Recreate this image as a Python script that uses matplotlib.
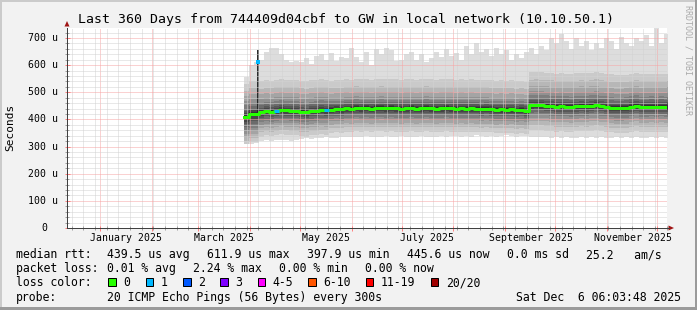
import numpy as np
import matplotlib
matplotlib.use("Agg")
import matplotlib.pyplot as plt
import matplotlib.dates as mdates
from matplotlib.patches import Rectangle, Polygon
from matplotlib.lines import Line2D
from matplotlib.transforms import offset_copy

W, H = 697, 310
MONO = "DejaVu Sans Mono"

# ---------------------------------------------------------------
# values (rtt in microseconds)
# one consolidated row every 3 days from the first row with data
# ---------------------------------------------------------------
first_row = np.datetime64("2025-03-28T09:36")
row_hours = 72

median_rtt = [
    410, 420, 420, 426, 430, 428, 432, 434, 433, 432,
    432, 428, 426, 430, 432, 434, 433, 436, 438, 437,
    441, 440, 443, 441, 442, 440, 442, 443, 441, 442,
    441, 440, 441, 442, 440, 441, 443, 441, 440, 441,
    442, 441, 440, 441, 440, 441, 440, 439, 440, 438,
    436, 437, 436, 437, 434, 436, 432, 452, 453, 452,
    451, 449, 447, 448, 447, 446, 448, 450, 448, 451,
    453, 449, 447, 444, 442, 442, 443, 447, 451, 445,
    446, 447, 446, 447, 446,
]
lost_pings = [
    0, 0, 0, 0, 0, 0, 1, 0, 0, 0,
    0, 0, 0, 0, 0, 0, 1, 0, 0, 0,
    0, 0, 0, 0, 0, 0, 0, 0, 0, 0,
    0, 0, 0, 0, 0, 0, 0, 0, 0, 0,
    0, 0, 0, 0, 0, 0, 0, 0, 0, 0,
    0, 0, 0, 0, 0, 0, 0, 0, 0, 0,
    0, 0, 0, 0, 0, 0, 0, 0, 0, 0,
    0, 0, 0, 0, 0, 0, 0, 0, 0, 0,
    0, 0, 0, 0, 0,
]
ping_max = [
    556, 600, 610, 620, 650, 665, 662, 640, 620, 612,
    615, 610, 625, 605, 635, 640, 620, 645, 615, 630,
    625, 662, 630, 612, 648, 600, 660, 640, 665, 655,
    615, 620, 640, 650, 620, 640, 610, 625, 650, 630,
    660, 635, 645, 620, 670, 640, 680, 650, 660, 635,
    665, 640, 655, 620, 640, 625, 650, 665, 640, 670,
    655, 700, 680, 715, 690, 660, 700, 670, 690, 655,
    680, 665, 700, 690, 660, 705, 680, 670, 700, 690,
    710, 670, 740, 680, 715,
]
ping_min = [
    308, 310, 312, 322, 324, 320, 325, 323, 326, 322,
    325, 328, 330, 328, 332, 330, 334, 331, 333, 335,
    336, 334, 337, 335, 338, 336, 334, 337, 339, 336,
    335, 338, 336, 337, 335, 338, 336, 334, 337, 339,
    336, 338, 340, 337, 339, 336, 341, 338, 336, 340,
    337, 339, 342, 338, 336, 340, 338, 335, 337, 334,
    336, 333, 335, 332, 336, 333, 330, 334, 331, 335,
    332, 336, 333, 330, 334, 332, 335, 331, 334, 333,
    330, 335, 332, 334, 333,
]

# width of the smoke layers: how far pings 2..10 lie below and pings
# 11..19 lie above the median, for four stretches of the year
stretch_first_row = [0, 3, 17, 57]
spread_below = [
    [102, 88, 75, 62, 50, 38, 27, 18, 9],
    [89, 73, 59, 46, 36, 27, 19, 12, 6],
    [86, 69, 55, 43, 34, 25, 18, 12, 6],
    [92, 74, 58, 46, 36, 27, 19, 12, 6],
]
spread_above = [
    [8, 13, 20, 30, 42, 57, 75, 95, 120],
    [6, 11, 18, 26, 36, 49, 66, 87, 114],
    [6, 10, 16, 23, 31, 42, 59, 79, 107],
    [6, 11, 18, 27, 38, 52, 72, 95, 122],
]

# one short row in early April: 1 lost ping, very wide spread
spike_time = np.datetime64("2025-04-05T19:00")
spike_low, spike_high = 425, 655
spike_median = 612

t_start = np.datetime64("2024-12-12T04:48")
t_end = np.datetime64("2025-12-07T04:48")
y_top = 737

y_ticks = [0, 100, 200, 300, 400, 500, 600, 700]
y_ticklabels = ["0", "100 u", "200 u", "300 u", "400 u", "500 u", "600 u", "700 u"]
x_label_times = ["2025-01-16T12:00", "2025-03-16T12:00", "2025-05-16T12:00",
                 "2025-07-16T12:00", "2025-09-16T12:00", "2025-11-16T12:00"]
x_ticklabels = ["January 2025", "March 2025", "May 2025",
                "July 2025", "September 2025", "November 2025"]

loss_labels = ["0", "1", "2", "3", "4-5", "6-10", "11-19", "20/20"]
loss_colors = ["#26ff00", "#00b8ff", "#0059ff", "#7e00ff",
               "#ff00ff", "#ff5500", "#ff0000", "#a00000"]

title = "Last 360 Days from 744409d04cbf to GW in local network (10.10.50.1)"
rtt_stats = ["439.5 us avg", "611.9 us max", "397.9 us min",
             "445.6 us now", "0.0 ms sd", "25.2   am/s"]
loss_stats = ["0.01 % avg", "2.24 % max", "0.00 % min", "0.00 % now"]
probe_text = "20 ICMP Echo Pings (56 Bytes) every 300s"
stamp = "Sat Dec  6 06:03:48 2025"


def fx(x):
    return x / W


def fy(y):
    return 1 - y / H


fig = plt.figure(figsize=(W / 100, H / 100), dpi=100, facecolor="#f2f2f2")

# 3d-ish frame round the image
fig.patches.append(Rectangle((0, fy(2)), 1, 2 / H, transform=fig.transFigure, color="#cbcbcb", lw=0))
fig.patches.append(Rectangle((0, 0), 2 / W, 1, transform=fig.transFigure, color="#cbcbcb", lw=0))
fig.patches.append(Rectangle((0, 0), 1, 3 / H, transform=fig.transFigure, color="#9b9b9b", lw=0))
fig.patches.append(Rectangle((fx(695), 0), 2 / W, 1, transform=fig.transFigure, color="#9b9b9b", lw=0))

ax = fig.add_axes([fx(67), fy(228), 600 / W, 200 / H])
ax.set_facecolor("white")

# ---- smoke ----
n = len(median_rtt)
edges = first_row + np.arange(n + 1) * np.timedelta64(row_hours, "h")
xe = mdates.date2num(edges)
med = np.array(median_rtt, dtype=float)

q = np.zeros((20, n))
q[0] = ping_min
q[19] = ping_max
bounds = stretch_first_row + [n]
for k in range(len(stretch_first_row)):
    a, b = bounds[k], bounds[k + 1]
    q[1:10, a:b] = med[a:b] - np.array(spread_below[k])[:, None]
    q[10:19, a:b] = med[a:b] + np.array(spread_above[k])[:, None]

for i in range(10):
    g = int(190 / 10 * (9 - i)) + 50      # smokeping grey ramp, outer pair lightest
    lo = np.append(q[i], q[i][-1])
    hi = np.append(q[19 - i], q[19 - i][-1])
    ax.fill_between(xe, lo, hi, step="post", color="#%02x%02x%02x" % (g, g, g),
                    lw=0, zorder=1)

xs = mdates.date2num(spike_time)
ax.vlines(xs, spike_low, spike_high, color="#262626", lw=1.4, zorder=1.2)

# ---- median, coloured by loss ----
ax.step(xe, np.append(med, med[-1]), where="post", color=loss_colors[0], lw=2.16, zorder=3)
for i, lost in enumerate(lost_pings):
    if lost:
        ax.hlines(med[i], xe[i], xe[i + 1], color=loss_colors[lost], lw=2.16, zorder=3.1)
ax.plot([xs], [spike_median], marker="s", ms=2.3, mew=0, color=loss_colors[1], zorder=3.2)

# ---- axes, grid ----
ax.set_xlim(mdates.date2num(t_start), mdates.date2num(t_end))
ax.set_ylim(0, y_top)
ax.xaxis.set_major_locator(mdates.MonthLocator())
ax.xaxis.set_minor_locator(mdates.WeekdayLocator(byweekday=mdates.SU))
ax.set_yticks(y_ticks)
ax.set_yticks(np.arange(0, y_top, 20), minor=True)
ax.set_axisbelow("line")
ax.grid(which="minor", color="#d2d2d2", linestyle=(0, (1, 1)), lw=0.72)
ax.grid(which="major", color="#f7a4a4", linestyle=(0, (1, 1)), lw=0.72)
ax.tick_params(which="major", direction="inout", length=3.6, width=0.72, color="#ff8080",
               labelbottom=False, labelleft=False)
ax.tick_params(which="minor", direction="inout", length=2.6, width=0.72, color="#a0a0a0")
for s in ("top", "right"):
    ax.spines[s].set_visible(False)
for s in ("left", "bottom"):
    ax.spines[s].set_color("#404040")
    ax.spines[s].set_linewidth(0.72)

# axis arrows
arrow_col = "#a01515"
fig.lines.append(Line2D([fx(667), fx(669)], [fy(228), fy(228)], transform=fig.transFigure,
                        color="#404040", lw=0.72))
fig.patches.append(Polygon([(fx(64.5), fy(26.5)), (fx(69.5), fy(26.5)), (fx(67), fy(21))],
                           closed=True, transform=fig.transFigure, color=arrow_col, lw=0))
fig.patches.append(Polygon([(fx(668.5), fy(225.5)), (fx(668.5), fy(230.5)), (fx(674), fy(228))],
                           closed=True, transform=fig.transFigure, color=arrow_col, lw=0))

# tick labels
ytr = ax.get_yaxis_transform()
for v, lab in zip(y_ticks, y_ticklabels):
    dx = -20 if v == 0 else -8.5
    ax.text(0, v, lab, transform=offset_copy(ytr, fig, x=dx, y=-3, units="dots"),
            ha="right", va="baseline", fontsize=7.1, family=MONO, color="black")
xtr = ax.get_xaxis_transform()
for t, lab in zip(x_label_times, x_ticklabels):
    ax.text(mdates.date2num(np.datetime64(t)), 0, lab,
            transform=offset_copy(xtr, fig, x=0, y=-12.7, units="dots"),
            ha="center", va="baseline", fontsize=7.1, family=MONO, color="black")

# titles
fig.text(fx(346.5), fy(23.5), title, ha="center", va="baseline", fontsize=9.5, family=MONO)
fig.text(fx(10.5), fy(127), "Seconds", rotation=90, ha="center", va="center",
         fontsize=8, family=MONO)
fig.text(fx(688), fy(60), "RRDTOOL / TOBI OETIKER", rotation=270, ha="center", va="center",
         fontsize=6, family=MONO, color="#aaaaaa")

# ---- legend block ----
LF = 8.3
fig.text(fx(16), fy(258), "median rtt:", fontsize=LF, family=MONO, va="baseline")
for x, s in zip([107.3, 207.3, 307.3, 406.7, 506.7, 586], rtt_stats):
    fig.text(fx(x), fy(258), s, fontsize=LF, family=MONO, va="baseline")

fig.text(fx(16), fy(272.3), "packet loss:", fontsize=LF, family=MONO, va="baseline")
for x, s in zip([107.3, 193.3, 279.3, 365], loss_stats):
    fig.text(fx(x), fy(272.3), s, fontsize=LF, family=MONO, va="baseline")

fig.text(fx(16), fy(286.3), "loss color:", fontsize=LF, family=MONO, va="baseline")
for x, lab, c in zip([108.3, 145.7, 183, 220.3, 257.5, 308, 365.5, 430.7],
                     loss_labels, loss_colors):
    fig.patches.append(Rectangle((fx(x), fy(285.5)), 7.5 / W, 8 / H, transform=fig.transFigure,
                                 facecolor=c, edgecolor="black", lw=0.72))
    fig.text(fx(x + 15), fy(286.3), lab, fontsize=LF, family=MONO, va="baseline")

fig.text(fx(16), fy(300.7), "probe:", fontsize=LF, family=MONO, va="baseline")
fig.text(fx(107.3), fy(300.7), probe_text, fontsize=LF, family=MONO, va="baseline")
fig.text(fx(680.5), fy(300.7), stamp, fontsize=LF, family=MONO, va="baseline", ha="right")

fig.savefig("out.png", dpi=100, facecolor=fig.get_facecolor())
